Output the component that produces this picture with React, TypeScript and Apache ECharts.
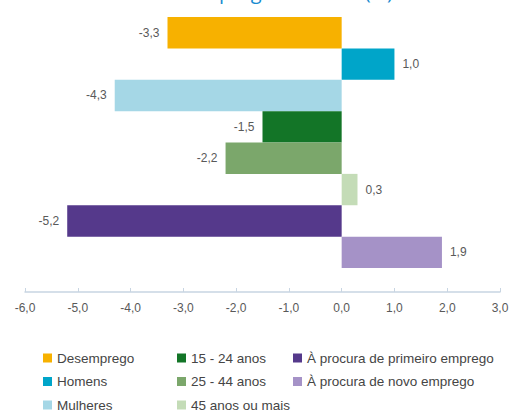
import React, { useEffect, useRef } from "react";
import * as echarts from "echarts";

const categories = [
  "Desemprego",
  "Homens",
  "Mulheres",
  "15 - 24 anos",
  "25 - 44 anos",
  "45 anos ou mais",
  "À procura de primeiro emprego",
  "À procura de novo emprego",
];
const values = [-3.3, 1.0, -4.3, -1.5, -2.2, 0.3, -5.2, 1.9];
const xTicks = [-6, -5, -4, -3, -2, -1, 0, 1, 2, 3];
const titleText = "Desemprego em 2013 (%)";

const palette = [
  "#f7b100",
  "#00a5c9",
  "#a5d7e6",
  "#137527",
  "#7ba76b",
  "#c4dcb7",
  "#55398b",
  "#a592c7",
];

// legend layout: column x and row y (centre) per item
const legendCols = [43, 43, 43, 177, 177, 177, 293, 293];
const legendRows = [358, 381.5, 405, 358, 381.5, 405, 358, 381.5];

const fmt = (v: number) => v.toFixed(1).replace(".", ",");

export default function App() {
  const ref = useRef<HTMLDivElement>(null);
  useEffect(() => {
    document.body.style.margin = "0";
    const chart = echarts.init(ref.current!, undefined, { renderer: "svg" });
    const series = categories.map((name, i) => ({
      name,
      type: "bar",
      stack: "all",
      barCategoryGap: "0%",
      itemStyle: { color: palette[i] },
      label: {
        show: true,
        position: values[i] < 0 ? "left" : "right",
        distance: 8,
        color: "#595959",
        fontSize: 12,
        fontFamily: "Liberation Sans",
        formatter: (p: any) => fmt(p.value),
      },
      data: categories.map((_, j) => (j === i ? values[i] : null)),
    }));
    const legends = categories.map((name, i) => ({
      orient: "horizontal",
      left: legendCols[i],
      top: legendRows[i] - 7,
      padding: 0,
      itemWidth: 9,
      itemHeight: 9,
      icon: "rect",
      selectedMode: false,
      textStyle: {
        color: "#454545",
        fontSize: 13.5,
        lineHeight: 14,
        fontFamily: "Liberation Sans",
      },
      data: [name],
    }));
    chart.setOption({
      animation: false,
      grid: { left: 25, right: 12, top: 17, height: 251 },
      graphic: [
        {
          type: "text",
          x: 393,
          y: -19,
          style: {
            text: titleText,
            textAlign: "right",
            textVerticalAlign: "top",
            fill: "#1a8bd0",
            fontSize: 20,
            fontFamily: "Open Sans",
          },
        },
      ],
      legend: legends,
      xAxis: {
        type: "value",
        min: xTicks[0],
        max: xTicks[xTicks.length - 1],
        interval: 1,
        offset: 24,
        splitLine: { show: false },
        axisLine: { show: true, lineStyle: { color: "#c8d5e2", width: 1.5 } },
        axisTick: { show: true, inside: true, length: 4, lineStyle: { color: "#c8d5e2" } },
        axisLabel: {
          color: "#595959",
          fontSize: 12,
          fontFamily: "Liberation Sans",
          margin: 10,
          formatter: (v: number) => fmt(v),
        },
      },
      yAxis: {
        type: "category",
        data: categories,
        inverse: true,
        show: false,
      },
      series,
    });
    return () => chart.dispose();
  }, []);
  return <div ref={ref} style={{ width: 512, height: 411 }} />;
}
